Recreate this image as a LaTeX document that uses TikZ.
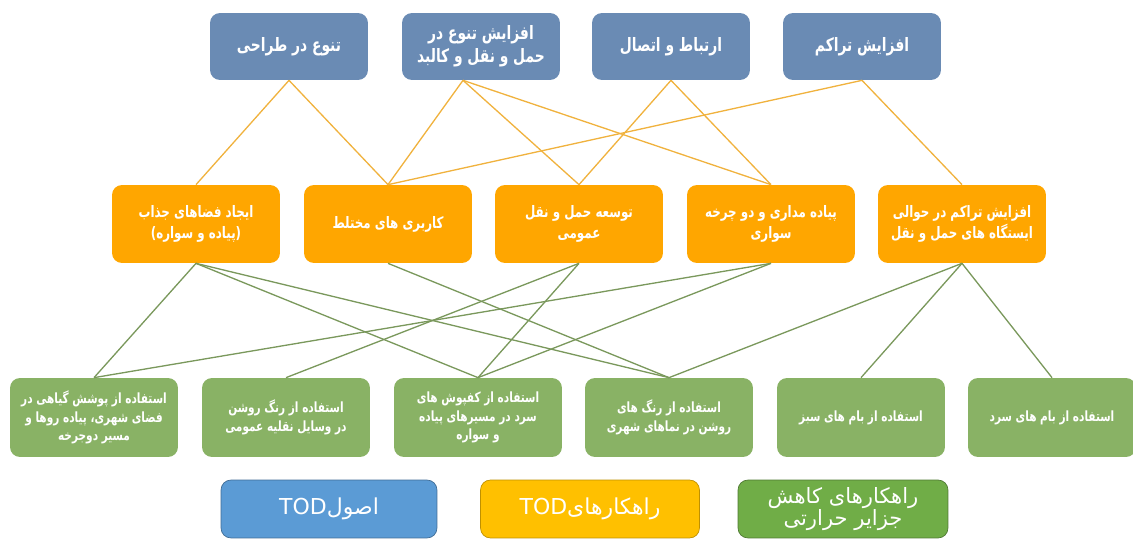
\documentclass[tikz,border=0pt]{standalone}
\usepackage{fontspec}
\usepackage{tikz}
\TeXXeTstate=1
\newfontfamily\persianfont[Script=Arabic, FakeStretch=0.75]{DejaVu Sans}
\newfontfamily\keyfont[Script=Arabic]{DejaVu Sans}
\newcommand{\rl}[1]{\beginR #1\endR}
\definecolor{topblue}{RGB}{106,139,180}
\definecolor{midorange}{RGB}{255,166,0}
\definecolor{lowgreen}{RGB}{137,178,101}
\definecolor{linegold}{RGB}{240,178,62}
\definecolor{linegreen}{RGB}{122,152,92}
\definecolor{legblue}{RGB}{91,155,213}
\definecolor{leggold}{RGB}{255,192,0}
\definecolor{leggreen}{RGB}{112,173,71}

\begin{document}
\begin{tikzpicture}[x=0.02cm, y=-0.02cm,
  principle/.style={rectangle, rounded corners=0.2cm, fill=topblue, text=white, minimum width=3.16cm, minimum height=1.34cm, align=center, font=\persianfont\bfseries\fontsize{10.5}{13}\selectfont},
  strategy/.style={rectangle, rounded corners=0.2cm, fill=midorange, text=white, minimum width=3.36cm, minimum height=1.56cm, align=center, font=\persianfont\bfseries\fontsize{9}{12}\selectfont},
  measure/.style={rectangle, rounded corners=0.2cm, fill=lowgreen, text=white, minimum width=3.36cm, minimum height=1.58cm, align=center, font=\persianfont\bfseries\fontsize{8}{10.5}\selectfont},
  legendbox/.style={rectangle, rounded corners=0.2cm, text=white, minimum height=1.16cm, align=center, font=\keyfont\fontsize{12.5}{13.5}\selectfont},
  goldline/.style={draw=linegold, line width=0.75pt},
  greenline/.style={draw=linegreen, line width=0.75pt}]
  \useasboundingbox (0,0) rectangle (1133,540);

  % Nodes
  \node[principle] (design) at (289,46.5) {\rl{تنوع در طراحی}};
  \node[principle] (mobility) at (481,46.5) {\rl{افزایش تنوع در}\\\rl{حمل و نقل و کالبد}};
  \node[principle] (connect) at (671,46.5) {\rl{ارتباط و اتصال}};
  \node[principle] (density) at (862,46.5) {\rl{افزایش تراکم}};

  \node[strategy] (spaces) at (196,224) {\rl{ایجاد فضاهای جذاب}\\\rl{(پیاده و سواره)}};
  \node[strategy] (mixed) at (388,224) {\rl{کاربری های مختلط}};
  \node[strategy] (transit) at (579,224) {\rl{توسعه حمل و نقل}\\\rl{عمومی}};
  \node[strategy] (walking) at (771,224) {\rl{پیاده مداری و دو چرخه}\\\rl{سواری}};
  \node[strategy] (stations) at (962,224) {\rl{افزایش تراکم در حوالی}\\\rl{ایستگاه های حمل و نقل}};

  \node[measure] (greenery) at (94,417.5) {\rl{استفاده از پوشش گیاهی در}\\\rl{فضای شهری، پیاده روها و}\\\rl{مسیر دوجرخه}};
  \node[measure] (vehicles) at (286,417.5) {\rl{استفاده از رنگ روشن}\\\rl{در وسایل نقلیه عمومی}};
  \node[measure] (pavement) at (478,417.5) {\rl{استفاده از کفپوش های}\\\rl{سرد در مسیرهای پیاده}\\\rl{و سواره}};
  \node[measure] (facades) at (669,417.5) {\rl{استفاده از رنگ های}\\\rl{روشن در نماهای شهری}};
  \node[measure] (greenroof) at (861,417.5) {\rl{استفاده از بام های سبز}};
  \node[measure] (coolroof) at (1052,417.5) {\rl{استفاده از بام های سرد}};

  \node[legendbox, fill=legblue, draw=legblue!70!black, minimum width=4.32cm] (keytop) at (329,509) {\rl{اصول\beginL TOD\endL}};
  \node[legendbox, fill=leggold, draw=leggold!75!black, minimum width=4.38cm] (keymid) at (590,509) {\rl{راهکارهای\beginL TOD\endL}};
  \node[legendbox, fill=leggreen, draw=leggreen!70!black, minimum width=4.2cm, font=\keyfont\fontsize{12}{13}\selectfont] (keylow) at (843,509) {\rl{راهکارهای کاهش}\\\rl{جزایر حرارتی}};

  % Edges
  \draw[goldline] (design.south) -- (spaces.north);
  \draw[goldline] (design.south) -- (mixed.north);
  \draw[goldline] ([xshift=-0.36cm]mobility.south) -- (mixed.north);
  \draw[goldline] ([xshift=-0.36cm]mobility.south) -- (transit.north);
  \draw[goldline] ([xshift=-0.36cm]mobility.south) -- (walking.north);
  \draw[goldline] (connect.south) -- (transit.north);
  \draw[goldline] (connect.south) -- (walking.north);
  \draw[goldline] (density.south) -- (mixed.north);
  \draw[goldline] (density.south) -- (stations.north);

  \draw[greenline] (spaces.south) -- (greenery.north);
  \draw[greenline] (spaces.south) -- (pavement.north);
  \draw[greenline] (spaces.south) -- (facades.north);
  \draw[greenline] (mixed.south) -- (facades.north);
  \draw[greenline] (transit.south) -- (vehicles.north);
  \draw[greenline] (transit.south) -- (pavement.north);
  \draw[greenline] (walking.south) -- (greenery.north);
  \draw[greenline] (walking.south) -- (pavement.north);
  \draw[greenline] (stations.south) -- (facades.north);
  \draw[greenline] (stations.south) -- (greenroof.north);
  \draw[greenline] (stations.south) -- (coolroof.north);
\end{tikzpicture}
\end{document}
